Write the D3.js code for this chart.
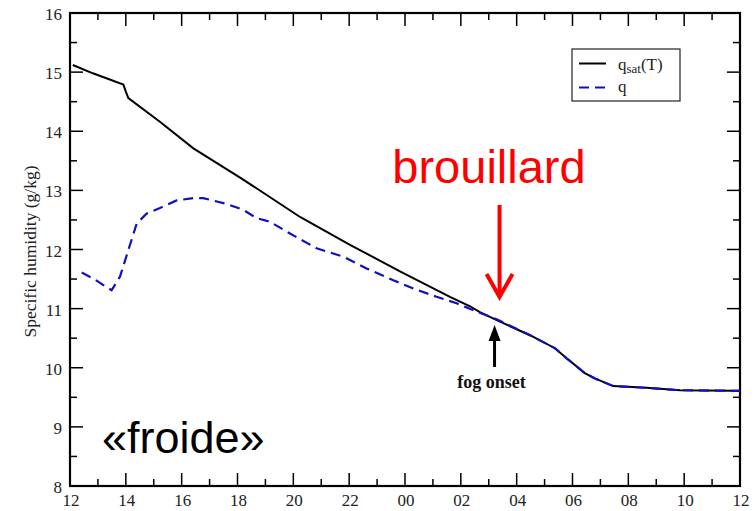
<!DOCTYPE html>
<html>
<head>
<meta charset="utf-8">
<script src="https://cdn.jsdelivr.net/npm/d3@7"></script>
<style>
  html, body { margin: 0; padding: 0; background: #fff; }
  svg { display: block; }
</style>
</head>
<body>
<svg id="chart" width="756" height="511"></svg>
<script>
// Hours elapsed since 12:00 on the first day
const xTickHours = [0, 2, 4, 6, 8, 10, 12, 14, 16, 18, 20, 22, 24];
const xTickLabels = ["12", "14", "16", "18", "20", "22", "00", "02", "04", "06", "08", "10", "12"];
const yTicks = [8, 9, 10, 11, 12, 13, 14, 15, 16];

// Saturation specific humidity q_sat(T), g/kg
const qsatHours = [0.1, 0.82, 1.91, 2.0, 2.09, 3.22, 4.42, 6.15, 8.24, 10.03, 11.82, 13.61, 14.33, 14.68, 15.4, 16.48, 17.37, 17.79, 18.44, 18.8, 19.46, 20.65, 21.85, 23.75, 24];
const qsatValues = [15.12, 14.98, 14.79, 14.67, 14.56, 14.16, 13.71, 13.20, 12.55, 12.08, 11.63, 11.20, 11.04, 10.94, 10.78, 10.55, 10.33, 10.16, 9.91, 9.82, 9.69, 9.66, 9.62, 9.61, 9.61];

// Specific humidity q, g/kg
const qHours = [0.42, 0.83, 1.49, 1.79, 2.09, 2.39, 2.75, 3.22, 3.82, 4.42, 4.77, 5.61, 6.21, 6.69, 7.16, 7.88, 8.83, 9.79, 10.62, 11.58, 12.41, 13.13, 13.85, 14.57, 15.28, 16.48, 17.37, 17.79, 18.44, 18.8, 19.46, 20.65, 21.85, 23.75, 24];
const qValues = [11.61, 11.51, 11.31, 11.54, 11.99, 12.44, 12.61, 12.70, 12.83, 12.87, 12.87, 12.77, 12.67, 12.53, 12.47, 12.27, 12.02, 11.88, 11.68, 11.48, 11.32, 11.20, 11.09, 10.95, 10.82, 10.55, 10.33, 10.16, 9.91, 9.82, 9.69, 9.66, 9.62, 9.61, 9.61];

// Fog onset time (hours since 12:00)
const fogOnsetHour = 15.1;

const serif = "'Liberation Serif', 'Times New Roman', serif";
const sans = "'Liberation Sans', Arial, sans-serif";

const svg = d3.select("#chart");
const plotLeft = 70, plotRight = 740, plotTop = 13, plotBottom = 486;

const x = d3.scaleLinear().domain([0, 24]).range([plotLeft, plotRight]);
const y = d3.scaleLinear().domain([8, 16]).range([plotBottom, plotTop]);

const minorX = d3.range(1, 24, 2);
const minorY = d3.range(8.5, 16, 1);

// Ticks on all four sides, pointing inward
const g = svg.append("g");
function ticks(sel) { sel.attr("stroke", "#000").attr("stroke-width", 1.5); }

xTickHours.forEach(h => {
  if (h > 0 && h < 24) {
    g.append("line").attr("x1", x(h)).attr("x2", x(h)).attr("y1", plotBottom).attr("y2", plotBottom - 13).call(ticks);
    g.append("line").attr("x1", x(h)).attr("x2", x(h)).attr("y1", plotTop).attr("y2", plotTop + 13).call(ticks);
  }
});
minorX.forEach(h => {
  g.append("line").attr("x1", x(h)).attr("x2", x(h)).attr("y1", plotBottom).attr("y2", plotBottom - 7).call(ticks);
  g.append("line").attr("x1", x(h)).attr("x2", x(h)).attr("y1", plotTop).attr("y2", plotTop + 7).call(ticks);
});
yTicks.forEach(v => {
  if (v > 8 && v < 16) {
    g.append("line").attr("x1", plotLeft).attr("x2", plotLeft + 13).attr("y1", y(v)).attr("y2", y(v)).call(ticks);
    g.append("line").attr("x1", plotRight).attr("x2", plotRight - 13).attr("y1", y(v)).attr("y2", y(v)).call(ticks);
  }
});
minorY.forEach(v => {
  g.append("line").attr("x1", plotLeft).attr("x2", plotLeft + 7).attr("y1", y(v)).attr("y2", y(v)).call(ticks);
  g.append("line").attr("x1", plotRight).attr("x2", plotRight - 7).attr("y1", y(v)).attr("y2", y(v)).call(ticks);
});

// Frame
g.append("rect").attr("x", plotLeft).attr("y", plotTop).attr("width", plotRight - plotLeft).attr("height", plotBottom - plotTop)
  .attr("fill", "none").attr("stroke", "#000").attr("stroke-width", 2.2);

// Tick labels
xTickHours.forEach((h, i) => {
  g.append("text").attr("x", x(h) + 1).attr("y", 506)
    .attr("text-anchor", "middle").attr("font-family", serif).attr("font-size", 17)
    .attr("fill", "#222").text(xTickLabels[i]);
});
yTicks.forEach(v => {
  g.append("text").attr("x", 62).attr("y", y(v) + 7)
    .attr("text-anchor", "end").attr("font-family", serif).attr("font-size", 17)
    .attr("fill", "#222").text(String(v));
});

// Axis title
svg.append("text")
  .attr("transform", `translate(36, ${(plotTop + plotBottom) / 2 + 2}) rotate(-90)`)
  .attr("text-anchor", "middle").attr("font-family", serif).attr("font-size", 17.5)
  .attr("fill", "#222").text("Specific humidity (g/kg)");

// Curves
const line = d3.line().x(d => x(d[0])).y(d => y(d[1]));
const qsatData = qsatHours.map((h, i) => [h, qsatValues[i]]);
const qData = qHours.map((h, i) => [h, qValues[i]]);

svg.append("path").datum(qsatData).attr("d", line)
  .attr("fill", "none").attr("stroke", "#000").attr("stroke-width", 2);
svg.append("path").datum(qData).attr("d", line)
  .attr("fill", "none").attr("stroke", "#1010c0").attr("stroke-width", 2.2)
  .attr("stroke-dasharray", "10,6");

// Legend
const lg = svg.append("g");
lg.append("rect").attr("x", 572).attr("y", 49).attr("width", 108).attr("height", 52)
  .attr("fill", "#fff").attr("stroke", "#222").attr("stroke-width", 1.2);
lg.append("line").attr("x1", 579).attr("x2", 606).attr("y1", 63.5).attr("y2", 63.5)
  .attr("stroke", "#000").attr("stroke-width", 2);
lg.append("line").attr("x1", 579).attr("x2", 606).attr("y1", 87.5).attr("y2", 87.5)
  .attr("stroke", "#1010c0").attr("stroke-width", 2.2).attr("stroke-dasharray", "10,6");
const t1 = lg.append("text").attr("x", 618).attr("y", 70).attr("font-family", serif)
  .attr("font-size", 17).attr("fill", "#222");
t1.append("tspan").text("q");
t1.append("tspan").attr("font-size", 13).attr("dy", 3).text("sat");
t1.append("tspan").attr("dy", -3).text("(T)");
lg.append("text").attr("x", 618).attr("y", 92).attr("font-family", serif)
  .attr("font-size", 17).attr("fill", "#222").text("q");

// Fog onset annotation
const fx = x(fogOnsetHour) + 3;
svg.append("line").attr("x1", fx).attr("x2", fx).attr("y1", 367).attr("y2", 338)
  .attr("stroke", "#000").attr("stroke-width", 3);
svg.append("path")
  .attr("d", `M${fx},325 L${fx - 6},341 L${fx + 6},341 Z`).attr("fill", "#000");
svg.append("text").attr("x", fx - 3).attr("y", 388).attr("text-anchor", "middle")
  .attr("font-family", serif).attr("font-weight", "bold").attr("font-size", 18)
  .attr("fill", "#111").text("fog onset");

// Red "brouillard" annotation
const rx = fx + 5;
svg.append("text").attr("x", 489).attr("y", 183).attr("text-anchor", "middle")
  .attr("font-family", sans).attr("font-size", 47).attr("fill", "#ff0000").text("brouillard");
svg.append("line").attr("x1", rx).attr("x2", rx).attr("y1", 205).attr("y2", 296)
  .attr("stroke", "#ff0000").attr("stroke-width", 4);
svg.append("path").attr("d", `M${rx - 13},274 L${rx},297 L${rx + 13},274`)
  .attr("fill", "none").attr("stroke", "#ff0000").attr("stroke-width", 4);

// "«froide»" label
svg.append("text").attr("x", 102).attr("y", 453)
  .attr("font-family", sans).attr("font-size", 45).attr("fill", "#000").text("«froide»");
</script>
</body>
</html>
